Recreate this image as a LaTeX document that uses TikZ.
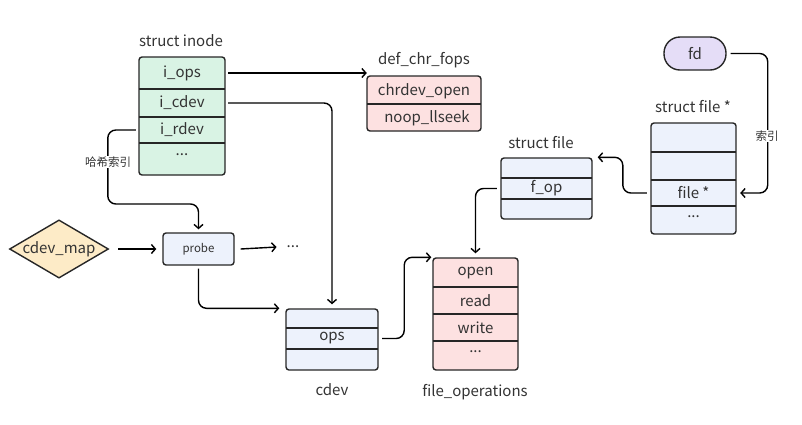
\documentclass[tikz,border=0pt]{standalone}
\usepackage{fontspec}
\setmainfont{Noto Sans CJK SC}
\usetikzlibrary{positioning, arrows.meta, shapes.geometric}

\definecolor{inodegreen}{HTML}{D9F3E4}
\definecolor{opspink}{HTML}{FDE1E1}
\definecolor{fileblue}{HTML}{EDF2FC}
\definecolor{mapyellow}{HTML}{FDEBC7}
\definecolor{fdpurple}{HTML}{E5DDF7}
\definecolor{inkgray}{HTML}{333333}

\tikzset{
  rec/.style={draw=black!85, line width=1.4pt, rounded corners=3pt, inner sep=0pt},
  row/.style={inner sep=0pt, text=inkgray, font=\fontsize{15}{17}\selectfont},
  title/.style={inner sep=0pt, text=inkgray, font=\fontsize{15}{17}\selectfont},
  tag/.style={inner sep=1pt, fill=white, text=inkgray, font=\fontsize{11.5}{13}\selectfont},
  sep/.style={line width=1.4pt, draw=black!85},
  link/.style={line width=1.4pt, -{Straight Barb[length=4pt,width=9pt]}, rounded corners=8pt}
}

\begin{document}
\begin{tikzpicture}[x=1pt, y=-1pt]
  \useasboundingbox (0,0) rectangle (802,424);

  % struct inode
  \node[title] (inodet) at (181,41) {struct inode};
  \node[rec, fill=inodegreen, minimum width=86, minimum height=118] (inode) at (182,116) {};
  \foreach \y in {89,117,143}
    \draw[sep] (139,\y) -- (225,\y);
  \node[row, minimum width=86, minimum height=28] (iops) at (182,73) {i\_ops};
  \node[row, minimum width=86, minimum height=26] (icdev) at (182,103) {i\_cdev};
  \node[row, minimum width=86, minimum height=26] (irdev) at (182,130) {i\_rdev};
  \node[row] (idots) at (182,155) {...};

  % def_chr_fops
  \node[title] (chrt) at (424,60) {def\_chr\_fops};
  \node[rec, fill=opspink, minimum width=114, minimum height=55] (chrfops) at (424,103.5) {};
  \draw[sep] (367,104) -- (481,104);
  \node[row, minimum width=114, minimum height=26] (chropen) at (424,91) {chrdev\_open};
  \node[row] (chrseek) at (427,118) {noop\_llseek};

  % cdev_map and probe
  \node[shape=diamond, aspect=1.7, draw=black!85, line width=1.4pt, fill=mapyellow,
        inner sep=0pt, minimum width=99, minimum height=56, text=inkgray,
        font=\fontsize{15}{17}\selectfont] (cdevmap) at (59,249) {cdev\_map};
  \node[rec, fill=fileblue, minimum width=71, minimum height=32, text=inkgray,
        font=\fontsize{11.5}{13}\selectfont] (probe) at (198.5,249) {probe};
  \node[row] (more) at (293,247) {...};

  % cdev
  \node[rec, fill=fileblue, minimum width=92, minimum height=61] (cdev) at (332,339.5) {};
  \foreach \y in {328,349}
    \draw[sep] (286,\y) -- (378,\y);
  \node[row, minimum width=92, minimum height=21] (cdevops) at (332,338.5) {ops};
  \node[title] (cdevt) at (332,390) {cdev};

  % file_operations
  \node[rec, fill=opspink, minimum width=85, minimum height=112] (fops) at (475.5,314) {};
  \foreach \y in {287,314,341}
    \draw[sep] (433,\y) -- (518,\y);
  \node[row] (fopen) at (475.5,273) {open};
  \node[row] (fread) at (475.5,300.5) {read};
  \node[row] (fwrite) at (475.5,327.5) {write};
  \node[row] (fdots) at (475.5,352) {...};
  \node[title] (fopst) at (475,392) {file\_operations};

  % struct file
  \node[title] (sfilet) at (541,143) {struct file};
  \node[rec, fill=fileblue, minimum width=91, minimum height=61] (sfile) at (546.5,188.5) {};
  \foreach \y in {178,199}
    \draw[sep] (501,\y) -- (592,\y);
  \node[row, minimum width=91, minimum height=21] (sfop) at (546.5,188.5) {f\_op};

  % struct file *
  \node[title] (pfilet) at (693,107) {struct file *};
  \node[rec, fill=fileblue, minimum width=85, minimum height=111] (pfiles) at (693.5,178.5) {};
  \foreach \y in {152,180,206}
    \draw[sep] (651,\y) -- (736,\y);
  \node[row, minimum width=85, minimum height=26] (pfile) at (693.5,193) {file *};
  \node[row] (pdots) at (693.5,217) {...};

  % fd
  \node[draw=black!85, line width=1.4pt, fill=fdpurple, rounded corners=16pt,
        minimum width=62, minimum height=33, text=inkgray,
        font=\fontsize{15}{17}\selectfont] (fd) at (695,53.5) {fd};

  % connectors
  \draw[link] ([xshift=3pt]iops.east) -- (chropen.west |- iops.east);
  \draw[link] ([xshift=3pt]icdev.east) -| ([yshift=4pt]cdev.north);
  \draw[link] ([xshift=-3pt]irdev.west) -- ++(-28,0) |- (150,204) -| ([yshift=3pt]probe.north);
  \node[tag] (hashlbl) at (108,162) {哈希索引};
  \draw[link] ([xshift=9pt]cdevmap.east) -- ([xshift=-6pt]probe.west);
  \draw[link] ([xshift=6pt]probe.east) -- ([xshift=-10pt]more.west);
  \draw[link] ([yshift=-3pt]probe.south) |- ([xshift=-6pt]cdev.north west);
  \draw[link] ([xshift=4pt]cdevops.east) -- ++(22,0) |- ([xshift=-1pt]fops.north west);
  \draw[link] ([xshift=-4pt]sfop.west) -| ([yshift=4pt]fops.north);
  \draw[link] ([xshift=4pt]fd.east) -- ++(37,0) |- ([xshift=4pt]pfile.east);
  \node[tag] (idxlbl) at (767,136) {索引};
  \draw[link] ([xshift=-4pt]pfile.west) -- ++(-24,0) |- ([xshift=5pt]sfile.north east);
\end{tikzpicture}
\end{document}
